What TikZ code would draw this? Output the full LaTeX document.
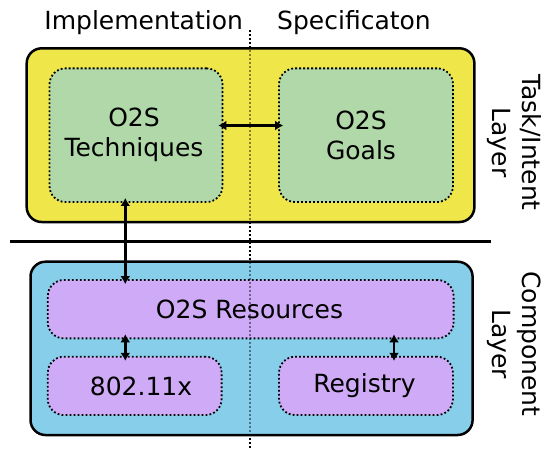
\documentclass[tikz,border=0pt]{standalone}
\usepackage{fontspec}
\setmainfont{DejaVu Sans}
\usetikzlibrary{arrows.meta}
\definecolor{layeryellow}{HTML}{EFE64A}
\definecolor{layerblue}{HTML}{87CEEB}
\definecolor{partgreen}{HTML}{B0D8A9}
\definecolor{partpurple}{HTML}{CFAAF6}
\tikzset{
  layerbox/.style={draw=black, line width=2.5pt, rounded corners=15pt},
  partbox/.style={draw=black, line width=1.8pt, dash pattern=on 1.8pt off 2.2pt, rounded corners=16pt},
  boxtext/.style={font=\fontsize{25}{30}\selectfont, align=center, inner sep=0pt},
  headtext/.style={font=\fontsize{25}{30}\selectfont, inner sep=0pt, anchor=base},
  sidetext/.style={font=\fontsize{25}{30}\selectfont, align=center, rotate=-90, inner sep=0pt},
  link/.style={line width=2.8pt, shorten <=-5pt, shorten >=-5pt,
    {Latex[length=8pt,width=10pt]}-{Latex[length=8pt,width=10pt]}},
  divider/.style={line width=1.8pt, dash pattern=on 1.8pt off 2.2pt}
}
\begin{document}
\begin{tikzpicture}[x=1pt, y=-1pt]
\useasboundingbox (0,0) rectangle (543,448);

% column divider behind the layers
\coordinate (dtop) at (250.3,30);
\coordinate (dbot) at (250.3,448);
\draw[divider] (dtop) -- (dbot);

% column headings
\node[headtext] (impl) at (143.7,29.5) {Implementation};
\node[headtext] (spec) at (354,29.5) {Specificaton};

% task/intent layer
\draw[layerbox, fill=layeryellow] (26.7,48.3) rectangle (474.4,222);
\node[partbox, fill=partgreen, minimum width=173pt, minimum height=133.7pt] (tech) at (136,135.2) {};
\node[partbox, fill=partgreen, minimum width=174pt, minimum height=133.7pt] (goals) at (366,135.2) {};
\node[boxtext] at (134,135.2) {O2S\\Techniques};
\node[boxtext] at (361,135.2) {O2S\\Goals};

% layer separator
\coordinate (sepl) at (9.7,241.5);
\coordinate (sepr) at (491,241.5);
\draw[line width=2.2pt] (sepl) -- (sepr);

% component layer
\draw[layerbox, fill=layerblue] (30.5,261.7) rectangle (472.6,435);
\node[partbox, fill=partpurple, minimum width=405.8pt, minimum height=58.3pt] (res) at (250.7,309.2) {};
\node[partbox, fill=partpurple, minimum width=173.8pt, minimum height=58.3pt] (wifi) at (134.7,385.9) {};
\node[partbox, fill=partpurple, minimum width=173.9pt, minimum height=58.3pt] (reg) at (366,385.9) {};
\node[boxtext] at (249.5,309.2) {O2S Resources};
\node[boxtext] at (141,385.9) {802.11x};
\node[boxtext] at (364.5,385.9) {Registry};

% divider seen through the layers
\draw[divider, draw opacity=0.45] (dtop) -- (dbot);

% connectors
\draw[link] (tech.east |- 0,125.5) -- (goals.west |- 0,125.5);
\draw[link] (tech.south -| 125.3,0) -- (res.north -| 125.3,0);
\draw[link] (res.south -| 125.3,0) -- (wifi.north -| 125.3,0);
\draw[link] (res.south -| 394,0) -- (reg.north -| 394,0);

% layer names
\node[sidetext] (tasklbl) at (514,142.5) {Task/Intent\\Layer};
\node[sidetext] (complbl) at (514,344) {Component\\Layer};
\end{tikzpicture}
\end{document}
